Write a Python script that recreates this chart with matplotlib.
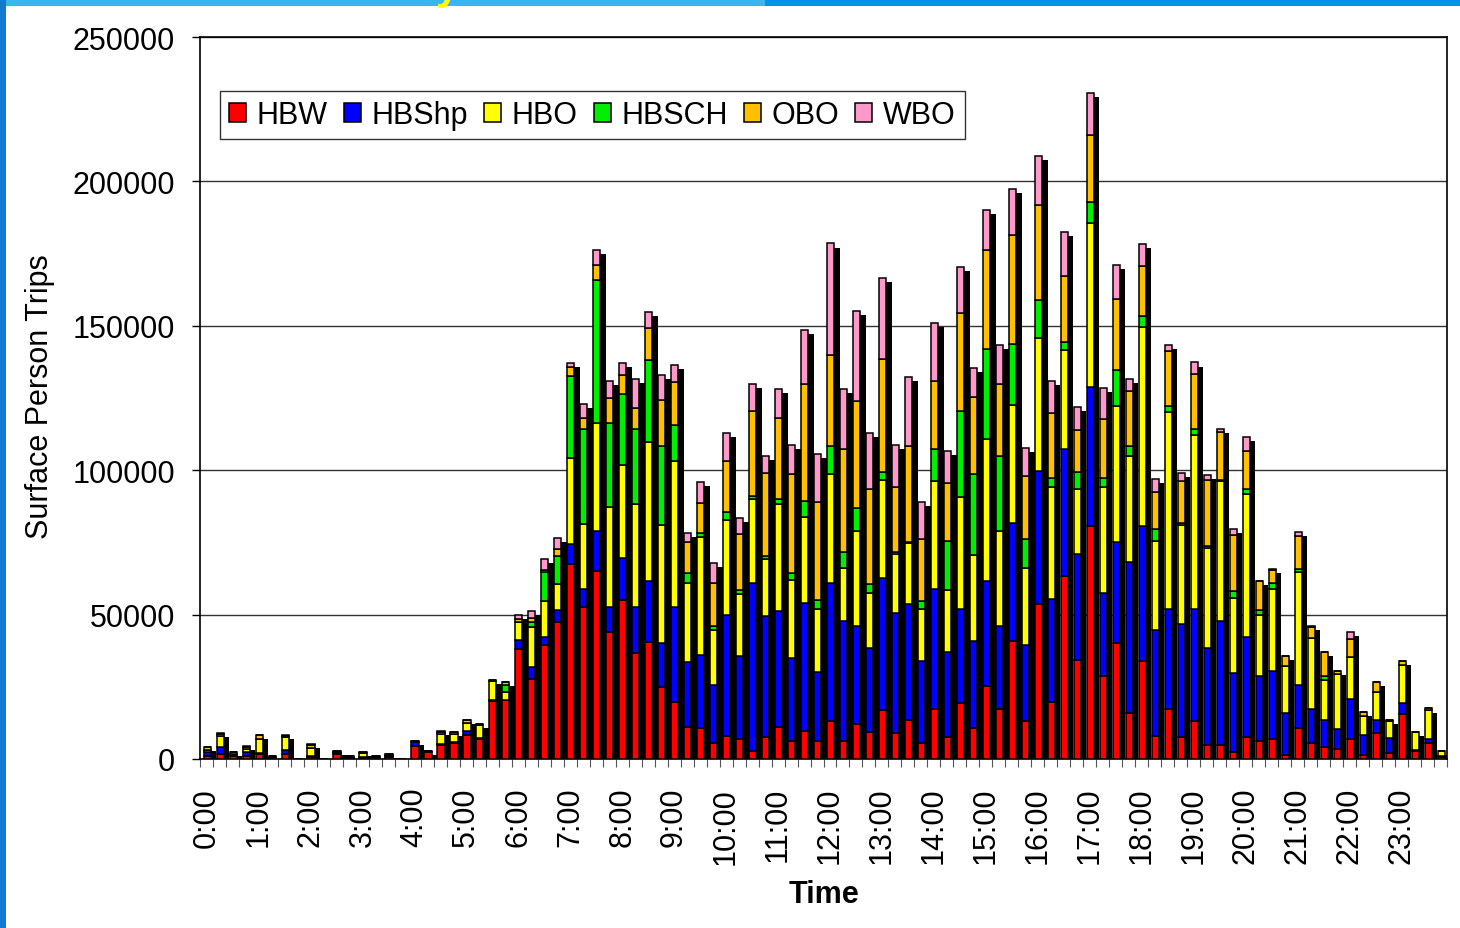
import numpy as np
import matplotlib
matplotlib.use("Agg")
import matplotlib.pyplot as plt
from matplotlib.patches import Rectangle

plt.rcParams["font.family"] = ["Liberation Sans", "DejaVu Sans"]

# 15-minute slots, values in thousands of trips
hbw = [1.0, 1.8, 0.9, 1.0, 1.8, 0.5, 1.6, 0, 0.6, 0, 1.8, 0.5, 0.4, 0.4, 0.6, 0,
       4.6, 2.3, 4.8, 5.4, 8.4, 6.9, 20.0, 20.3, 38.0, 27.6, 39.6, 47.4, 67.6, 52.8, 65.0, 43.9,
       55.2, 36.6, 40.4, 24.9, 19.6, 11.0, 10.9, 5.6, 8.1, 7.0, 2.8, 7.6, 11.0, 6.2, 9.6, 6.2,
       13.2, 6.2, 12.1, 9.5, 16.8, 8.9, 13.6, 5.6, 17.4, 7.6, 19.4, 10.8, 25.4, 17.4, 41.0, 13.2,
       53.5, 19.9, 63.5, 34.3, 80.6, 28.9, 40.3, 15.8, 33.9, 8.0, 17.4, 7.5, 13.0, 4.9, 4.9, 2.3,
       7.6, 6.2, 7.0, 1.5, 10.7, 5.4, 4.3, 3.5, 6.9, 1.5, 8.9, 2.2, 15.5, 2.7, 5.4, 0.8]
hbshp = [1.5, 2.5, 0.7, 1.3, 0.3, 0.3, 1.6, 0, 0.3, 0, 0.2, 0.2, 0.2, 0.2, 0.3, 0,
         1.2, 0.3, 0.5, 0.4, 1.2, 0.5, 0.3, 0.3, 3.2, 4.2, 2.6, 4.1, 7.0, 6.1, 14.0, 8.8,
         14.5, 16.0, 21.4, 15.1, 32.9, 22.6, 25.2, 20.0, 41.7, 28.6, 58.2, 41.8, 40.3, 28.7, 44.4, 23.8,
         47.8, 41.7, 33.9, 29.1, 45.8, 41.8, 40.1, 28.4, 41.3, 29.3, 32.5, 29.9, 36.3, 28.6, 40.7, 26.3,
         46.3, 35.6, 44.0, 36.7, 48.2, 28.5, 35.0, 52.3, 46.7, 36.8, 34.7, 39.2, 39.0, 33.5, 42.9, 27.6,
         34.6, 22.7, 23.6, 14.6, 14.8, 11.8, 9.3, 6.9, 13.8, 6.7, 4.7, 4.9, 4.0, 0.5, 1.4, 0.2]
hbo = [0.7, 3.8, 0.7, 1.2, 4.9, 0.3, 4.4, 0, 2.8, 0, 0.5, 0.2, 1.5, 0.3, 0.5, 0,
       0.3, 0.2, 3.2, 3.0, 2.8, 4.4, 6.6, 2.7, 6.1, 13.8, 12.6, 9.2, 29.6, 22.3, 37.4, 34.4,
       32.0, 35.6, 48.1, 41.1, 50.8, 27.5, 40.9, 19.1, 33.1, 21.5, 29.0, 19.8, 37.0, 27.2, 29.7, 22.1,
       37.7, 18.1, 33.1, 18.8, 34.1, 20.3, 21.0, 18.1, 37.7, 21.6, 38.8, 29.8, 49.2, 33.1, 40.9, 26.5,
       46.1, 38.7, 34.2, 22.6, 56.7, 36.9, 46.9, 36.8, 68.9, 30.6, 68.1, 34.2, 60.2, 34.8, 48.5, 25.9,
       49.6, 20.9, 28.4, 16.1, 39.1, 24.6, 13.8, 18.9, 14.5, 6.7, 9.6, 6.0, 13.2, 6.0, 10.3, 1.7]
hbsch = [0, 0, 0, 0, 0, 0, 0, 0, 0, 0, 0, 0, 0, 0, 0, 0,
         0, 0, 0, 0, 0, 0, 0, 2.2, 0.2, 1.9, 9.8, 9.5, 28.4, 33.2, 49.5, 29.3,
         24.6, 26.1, 28.3, 27.4, 12.5, 3.2, 1.2, 1.3, 2.5, 1.5, 1.1, 1.1, 1.7, 2.4, 5.8, 3.1,
         9.8, 5.6, 7.9, 3.3, 2.8, 0.7, 0.6, 2.5, 11.0, 16.9, 29.9, 28.3, 31.0, 25.9, 21.0, 10.3,
         12.9, 3.1, 2.7, 5.8, 7.2, 3.1, 12.4, 3.6, 3.9, 4.3, 1.9, 0.8, 1.9, 0.6, 0.2, 2.5,
         1.8, 1.9, 2.1, 0.1, 1.2, 0.2, 1.2, 0.1, 0.1, 0, 0, 0, 0, 0, 0, 0]
obo = [0.9, 0.7, 0.2, 0.8, 1.2, 0.1, 0.5, 0, 1.2, 0, 0.3, 0.1, 0.3, 0.1, 0.2, 0,
       0.2, 0.1, 1.0, 0.6, 1.1, 0.2, 0.3, 1.2, 1.1, 1.2, 0.9, 2.5, 3.1, 3.6, 5.3, 8.6,
       6.7, 7.2, 11.2, 15.8, 14.6, 10.7, 10.6, 15.0, 17.9, 19.2, 29.3, 28.6, 28.1, 34.3, 40.4, 33.9,
       31.5, 35.7, 37.0, 32.9, 39.0, 22.4, 33.0, 21.6, 23.6, 20.0, 33.9, 26.5, 34.5, 25.0, 37.9, 21.8,
       33.2, 22.4, 22.7, 14.6, 23.2, 20.3, 24.7, 18.8, 17.3, 12.6, 19.3, 14.7, 19.3, 22.7, 16.6, 19.2,
       13.1, 9.8, 4.5, 3.4, 11.4, 3.8, 8.3, 1.1, 6.2, 1.3, 3.5, 0.5, 1.3, 0.3, 0.4, 0.2]
wbo = [0.2, 0.2, 0, 0.2, 0.2, 0, 0.1, 0, 0.2, 0, 0.1, 0, 0.1, 0, 0, 0,
       0, 0, 0.1, 0.1, 0.1, 0.1, 0.1, 0.1, 1.4, 2.7, 3.8, 3.7, 1.3, 5.0, 5.2, 6.0,
       4.0, 10.1, 5.5, 8.7, 6.0, 3.3, 7.2, 6.9, 9.7, 5.6, 9.6, 5.9, 10.0, 9.9, 18.6, 16.4,
       38.5, 20.8, 31.2, 19.3, 28.1, 14.7, 23.9, 12.7, 19.9, 11.4, 16.0, 10.1, 13.6, 13.4, 16.0, 9.7,
       16.8, 11.3, 15.4, 8.0, 14.6, 10.7, 11.9, 4.4, 7.7, 4.7, 2.1, 2.6, 3.9, 1.8, 1.2, 2.1,
       4.9, 0.2, 0.2, 0.1, 1.3, 0.1, 0.3, 0.1, 2.6, 0, 0.1, 0, 0, 0, 0, 0]

purposes = ["HBW", "HBShp", "HBO", "HBSCH", "OBO", "WBO"]
colors = ["#FF0000", "#0000FF", "#FFFF00", "#00EE00", "#FFC000", "#FF99CC"]
hour_labels = ["0:00", "1:00", "2:00", "3:00", "4:00", "5:00", "6:00", "7:00",
               "8:00", "9:00", "10:00", "11:00", "12:00", "13:00", "14:00", "15:00",
               "16:00", "17:00", "18:00", "19:00", "20:00", "21:00", "22:00", "23:00"]

series = [np.array(s) * 1000 for s in (hbw, hbshp, hbo, hbsch, obo, wbo)]
slots = np.arange(len(hbw))
total = np.sum(series, axis=0)

fig = plt.figure(figsize=(14.6, 9.29), dpi=100)
fig.patch.set_facecolor("white")

# slide frame
fig.patches.append(Rectangle((0, 1 - 7 / 929), 765 / 1460, 7 / 929, transform=fig.transFigure,
                             facecolor="#38B6F2", edgecolor="none", zorder=0))
fig.patches.append(Rectangle((765 / 1460, 1 - 7 / 929), 1, 7 / 929, transform=fig.transFigure,
                             facecolor="#0094E8", edgecolor="none", zorder=0))
fig.patches.append(Rectangle((0, 0), 6 / 1460, 1, transform=fig.transFigure,
                             facecolor="#1479D2", edgecolor="none", zorder=0))
fig.text(447 / 1460, 1 + 1 / 929, "y", color="#FFFF00", fontsize=30, fontweight="bold",
         ha="center", va="baseline")

ax = fig.add_axes([200 / 1460, 1 - 760 / 929, 1247 / 1460, 722 / 929])

bw = 0.55
# drop shadow behind each stack
ax.bar(slots + 0.55 + 0.42, np.clip(total - 1400, 0, None), width=bw, color="black",
       edgecolor="none", zorder=2)
bottom = np.zeros(len(slots))
for name, vals, col in zip(purposes, series, colors):
    ax.bar(slots + 0.55, vals, width=bw, bottom=bottom, color=col, edgecolor="black",
           linewidth=1.1, label=name, zorder=3)
    bottom = bottom + vals

ax.set_xlim(0, 96)
ax.set_ylim(0, 250000)
ax.set_yticks(np.arange(0, 250001, 50000))
ax.set_yticklabels([str(v) for v in range(0, 250001, 50000)])
ax.yaxis.grid(True, color="#333333", linewidth=1)
ax.set_axisbelow(True)

ax.set_xticks(np.arange(0, 96, 4) + 0.5)
ax.set_xticklabels(hour_labels, rotation=90)
ax.set_xticks(np.arange(0, 97), minor=True)
ax.tick_params(axis="x", which="major", length=0, pad=20, labelsize=22)
ax.tick_params(axis="x", which="minor", length=6, width=0.8, color="#555555", direction="out")
ax.tick_params(axis="y", length=6, width=1, pad=12, labelsize=22)

for sp in ax.spines.values():
    sp.set_linewidth(1.2)
    sp.set_color("black")

fig.text(40 / 1460, 1 - 397 / 929, "Surface Person Trips", rotation=90, fontsize=22,
         ha="center", va="center")
fig.text(824 / 1460, 1 - 895 / 929, "Time", fontsize=22, fontweight="bold",
         ha="center", va="center")

leg = ax.legend(loc="upper left", bbox_to_anchor=(0.016, 0.925), ncol=6, fontsize=22,
                frameon=True, fancybox=False, framealpha=1, edgecolor="#333333",
                handlelength=0.55, handleheight=0.55, handletextpad=0.35,
                columnspacing=0.53, borderpad=0.3, borderaxespad=0)
leg.get_frame().set_linewidth(1.0)

fig.savefig("out.png", dpi=100)
